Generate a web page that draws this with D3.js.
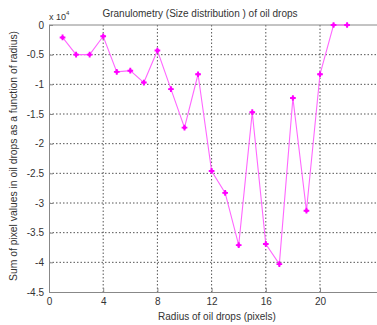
<!DOCTYPE html>
<html>
<head>
	<meta charset="utf-8">
	<script src="https://d3js.org/d3.v7.min.js"></script>
	<style>
		body { margin: 0; background: #fff; overflow: hidden; }
		svg text { font-family: "Liberation Sans", Arial, sans-serif; fill: #333; }
	</style>
</head>
<body>
<div id="chart"></div>
<script>
// radius of oil drops (pixels)
var radius = [1, 2, 3, 4, 5, 6, 7, 8, 9, 10, 11, 12, 13, 14, 15, 16, 17, 18, 19, 20, 21, 22];
// sum of pixel values, in units of 10^4
var pixelSum = [-0.21, -0.5, -0.5, -0.19, -0.79, -0.77, -0.97, -0.43, -1.08, -1.73, -0.83,
	-2.46, -2.83, -3.71, -1.47, -3.69, -4.03, -1.23, -3.13, -0.83, 0, 0];
var xTicks = [0, 4, 8, 12, 16, 20];
var yTicks = [0, -0.5, -1, -1.5, -2, -2.5, -3, -3.5, -4, -4.5];

var W = 377, H = 325;
var plotLeft = 49, plotTop = 25, plotBottom = 292;

var svg = d3.select("#chart").append("svg")
	.attr("width", W).attr("height", H);

var x = d3.scaleLinear().domain([0, 26]).range([plotLeft, plotLeft + 26 * 13.55]);
var y = d3.scaleLinear().domain([-4.5, 0]).range([plotBottom, plotTop]);

// grid
svg.append("g").selectAll("line").data(xTicks.slice(1)).enter().append("line")
	.attr("x1", d => x(d)).attr("x2", d => x(d))
	.attr("y1", plotTop).attr("y2", plotBottom)
	.attr("stroke", "#555").attr("stroke-width", 1).attr("stroke-dasharray", "1.5,2");
svg.append("g").selectAll("line").data(yTicks.slice(1, -1)).enter().append("line")
	.attr("x1", plotLeft).attr("x2", W)
	.attr("y1", d => y(d)).attr("y2", d => y(d))
	.attr("stroke", "#555").attr("stroke-width", 1).attr("stroke-dasharray", "1.5,2");

// axes
var xAxis = d3.axisBottom(x).tickValues(xTicks).tickSizeInner(-4).tickSizeOuter(0).tickPadding(6);
var yAxis = d3.axisLeft(y).tickValues(yTicks).tickSizeInner(-4).tickSizeOuter(0).tickPadding(5)
	.tickFormat(d => String(d));

var gx = svg.append("g").attr("transform", "translate(0," + plotBottom + ")").call(xAxis);
var gy = svg.append("g").attr("transform", "translate(" + plotLeft + ",0)").call(yAxis);
[gx, gy].forEach(function (g) {
	g.select(".domain").attr("stroke", "#888");
	g.selectAll(".tick line").attr("stroke", "#888");
	g.selectAll("text").style("font-size", "10px").attr("fill", "#444");
});
// top border
svg.append("line").attr("x1", plotLeft).attr("x2", W).attr("y1", plotTop).attr("y2", plotTop)
	.attr("stroke", "#888");

// line + markers
var line = d3.line().x((d, i) => x(radius[i])).y(d => y(d));
svg.append("path").datum(pixelSum).attr("d", line)
	.attr("fill", "none").attr("stroke", "#ff66ff").attr("stroke-width", 1.1);

var marks = svg.append("g").selectAll("g").data(pixelSum).enter().append("g")
	.attr("transform", (d, i) => "translate(" + x(radius[i]) + "," + y(d) + ")");
marks.append("circle").attr("r", 1.8).attr("fill", "#ff00ff");
marks.append("path").attr("d", d3.symbol().type(d3.symbolCross).size(18))
	.attr("fill", "#ff00ff");

// texts
svg.append("text").attr("x", 200).attr("y", 17).attr("text-anchor", "middle")
	.style("font-size", "10px").text("Granulometry (Size distribution ) of oil drops");
var ex = svg.append("text").attr("x", 49).attr("y", 20).style("font-size", "9px");
ex.append("tspan").text("x 10");
ex.append("tspan").attr("dy", -5).style("font-size", "6px").text("4");
svg.append("text").attr("x", 217).attr("y", 320).attr("text-anchor", "middle")
	.style("font-size", "10px").text("Radius of oil drops (pixels)");
svg.append("text").attr("transform", "translate(17,156) rotate(-90)").attr("text-anchor", "middle")
	.attr("textLength", 250).attr("lengthAdjust", "spacingAndGlyphs")
	.style("font-size", "10.5px").text("Sum of pixel values in oil drops as a function of radius)");
</script>
</body>
</html>
